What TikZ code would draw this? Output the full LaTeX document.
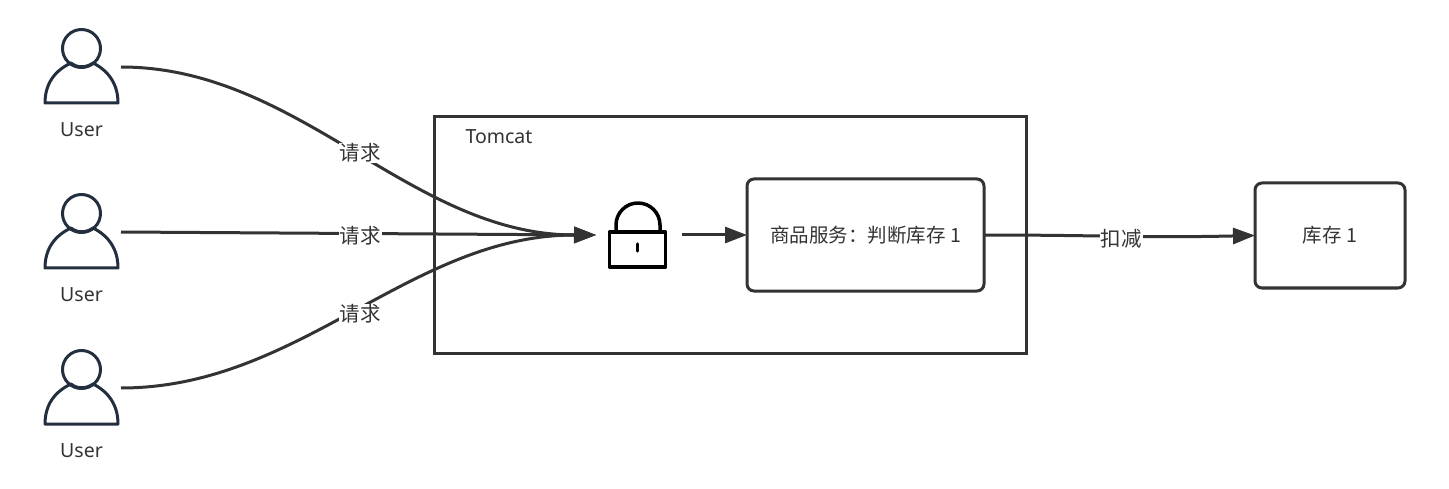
\documentclass[tikz,border=0pt]{standalone}
\usepackage{fontspec}
\setmainfont{Noto Sans}
\newfontfamily\cjk{Noto Sans CJK SC}[Scale=1]
\usetikzlibrary{arrows.meta}
\definecolor{linec}{HTML}{333333}
\definecolor{iconc}{HTML}{232F3E}
\tikzset{
  x=1pt,y=-1pt,
  conn/.style={draw=linec,line width=3pt,-{Triangle[length=22pt,width=16pt]}},
  lbl/.style={fill=white,text=linec,inner sep=1pt,font=\fontsize{20.5}{22}\selectfont\cjk},
  txt/.style={text=linec,inner sep=0pt,font=\fontsize{19.5}{22}\selectfont},
  rbox/.style={draw=linec,line width=3pt,rounded corners=7pt,anchor=north west,inner sep=0pt,outer sep=0pt},
  anchorbox/.style={inner sep=0pt,outer sep=0pt,minimum width=#1,minimum height=20pt},
  iconline/.style={draw=iconc,line width=3pt,line join=round},
  lockline/.style={draw=black,line width=3.5pt,line join=round,line cap=round},
}
\newcommand{\personicon}[1]{%
  \draw[iconline] (81.5,#1) circle[radius=19];
  \draw[iconline] (45,#1+54.5) -- (118,#1+54.5)
     .. controls (118,#1+35) and (108,#1+22) .. (93,#1+14.5)
     .. controls (86,#1+19.5) and (77,#1+19.5) .. (71,#1+14.5)
     .. controls (55,#1+22) and (45,#1+35) .. (45,#1+54.5) -- cycle;
}
\begin{document}
\begin{tikzpicture}
\useasboundingbox (0,0) rectangle (1449,489);
% users
\personicon{48.5}
\personicon{213.5}
\personicon{369.5}
\node[anchorbox=80pt] (u1) at (81,67) {};
\node[anchorbox=80pt] (u2) at (81,232) {};
\node[anchorbox=80pt] (u3) at (81,388) {};
\node[txt] (t1) at (81.5,130) {User};
\node[txt] (t2) at (81.5,295) {User};
\node[txt] (t3) at (81.5,451) {User};
% tomcat
\node[draw=linec,line width=3pt,anchor=north west,minimum width=592pt,minimum height=236pt,inner sep=0pt,outer sep=0pt] (tomcat) at (434,117) {};
\node[txt] (tname) at (499,137) {Tomcat};
% lock
\draw[lockline] (609.5,232) rectangle (665.5,267);
\draw[lockline] (616,232) -- (616,225) arc[start angle=180,end angle=360,radius=22] -- (660,232);
\draw[lockline] (637.5,244) -- (637.5,251);
\node[anchorbox=86pt] (lock) at (639,235) {};
% service and stock
\node[rbox,minimum width=237pt,minimum height=112pt,font=\fontsize{19.5}{22}\selectfont\cjk,text=linec] (svc) at (747,179) {商品服务：判断库存 1};
\node[rbox,minimum width=150pt,minimum height=105pt,font=\fontsize{19.5}{22}\selectfont\cjk,text=linec] (stock) at (1255,183) {库存 1};
% connectors
\draw[conn] (u1.east) .. controls (300,67) and (410,235) .. (lock.west);
\draw[conn] (u2.east) -- (lock.west);
\draw[conn] (u3.east) .. controls (300,388) and (410,235) .. (lock.west);
\draw[conn] (lock.east) -- (svc.west);
\draw[conn] (svc.east) .. controls (1100,235) and (1140,238) .. (stock.west);
% labels
\node[lbl] (l1) at (360,153) {请求};
\node[lbl] (l2) at (360,236) {请求};
\node[lbl] (l3) at (360,314) {请求};
\node[lbl] (l4) at (1121,239) {扣减};
\end{tikzpicture}
\end{document}
